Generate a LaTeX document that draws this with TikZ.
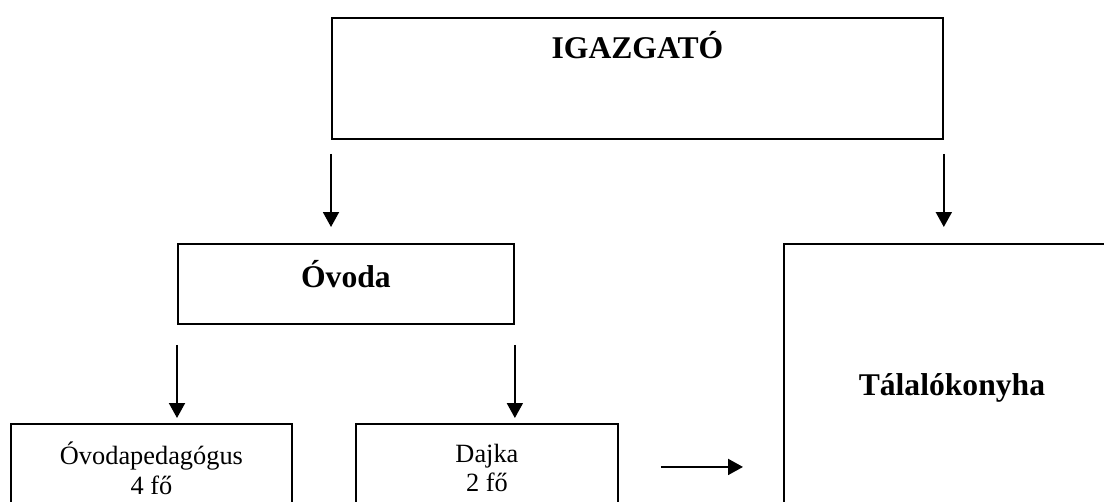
\documentclass[tikz,border=0pt]{standalone}
\usepackage{fontspec}
\setmainfont{Liberation Serif}
\usetikzlibrary{arrows.meta}
\begin{document}
\begin{tikzpicture}[x=0.02cm,y=-0.02cm,
  box/.style={draw, line width=1.1pt, rectangle, inner sep=0pt, anchor=north west},
  bigtext/.style={font=\fontsize{18}{21}\selectfont\bfseries},
  smalltext/.style={font=\fontsize{15}{17}\selectfont, align=center},
  arr/.style={line width=1.1pt, -{Triangle[length=0.3cm,width=0.32cm]}}]
\useasboundingbox (0,0) rectangle (1104,502);
\clip (0,0) rectangle (1104,502);
\node[box, bigtext, minimum width=12.22cm, text height=0.82cm, text depth=1.6cm] (igaz) at (331,17) {IGAZGATÓ};
\node[box, bigtext, minimum width=6.72cm, text height=0.88cm, text depth=0.72cm] (ovoda) at (177,243) {Óvoda};
\node[box, smalltext, minimum width=5.62cm, minimum height=1.76cm] (oped) at (10,423) {Óvodapedagógus\\4 fő};
\node[box, smalltext, minimum width=5.24cm, minimum height=1.76cm] (dajka) at (355,423) {Dajka\\2 fő};
\node[box, bigtext, minimum width=6.72cm, minimum height=5.76cm] (tala) at (783,243) {Tálalókonyha};
\draw[arr, shorten <=0.28cm, shorten >=0.32cm] (igaz.south west) -- (igaz.south west |- ovoda.north);
\draw[arr, shorten <=0.28cm, shorten >=0.32cm] (igaz.south east) -- (igaz.south east |- tala.north);
\draw[arr, shorten <=0.4cm, shorten >=0.1cm] (ovoda.south west) -- (ovoda.south west |- oped.north);
\draw[arr, shorten <=0.4cm, shorten >=0.1cm] (ovoda.south east) -- (ovoda.south east |- dajka.north);
\draw[arr, shorten <=0.84cm, shorten >=0.8cm] ([yshift=0.02cm]dajka.east) -- ([yshift=0.02cm]dajka.east -| tala.west);
\end{tikzpicture}
\end{document}
